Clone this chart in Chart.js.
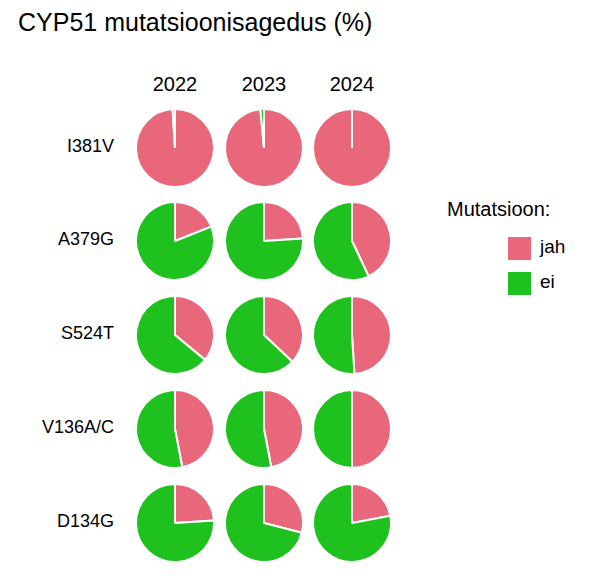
<!DOCTYPE html>
<html>
<head>
<meta charset="utf-8">
<script src="https://cdn.jsdelivr.net/npm/chart.js@4"></script>
<style>
  body { margin: 0; background: #fff; font-family: Arial, "Liberation Sans", sans-serif; }
  #wrap { position: relative; width: 594px; height: 577px; }
  .lbl { position: absolute; color: #000; white-space: nowrap; }
  canvas.pie { position: absolute; }
  .box { position: absolute; width: 23px; height: 23px; }
</style>
</head>
<body>
<div id="wrap">
  <div class="lbl" style="left:18px;top:8px;font-size:25px">CYP51 mutatsioonisagedus (%)</div>
  <div class="lbl" style="left:447px;top:198px;font-size:20px">Mutatsioon:</div>
  <div class="box" style="left:508px;top:237px;background:#E8677A"></div>
  <div class="box" style="left:508px;top:272px;background:#1EC11E"></div>
  <div class="lbl" style="left:540px;top:236px;font-size:19px">jah</div>
  <div class="lbl" style="left:540px;top:271px;font-size:19px">ei</div>
</div>
<script>
const years = ['2022', '2023', '2024'];
const mutations = ['I381V', 'A379G', 'S524T', 'V136A/C', 'D134G'];
const labels = ['jah', 'ei'];
// share of "jah" (%) per mutation, per year
const jahShare = [
  [99, 98.5, 100],
  [19, 24, 43],
  [36, 37, 49],
  [47, 47, 50],
  [24, 29, 22]
];
const colors = ['#E8677A', '#1EC11E'];

const wrap = document.getElementById('wrap');
const colX = [175, 264, 352];
const rowY = [148, 241, 335, 429, 523];
const size = 82;

years.forEach((year, c) => {
    const d = document.createElement('div');
    d.className = 'lbl';
    d.style.cssText = `left:${colX[c] - 30}px;top:73px;width:60px;text-align:center;font-size:20px`;
    d.textContent = year;
    wrap.appendChild(d);
});

mutations.forEach((name, r) => {
    const d = document.createElement('div');
    d.className = 'lbl';
    d.style.cssText = `left:10px;top:${rowY[r] - 12}px;width:104px;text-align:right;font-size:18px`;
    d.textContent = name;
    wrap.appendChild(d);

    years.forEach((year, c) => {
        const cv = document.createElement('canvas');
        cv.className = 'pie';
        cv.width = size;
        cv.height = size;
        cv.style.left = (colX[c] - size / 2) + 'px';
        cv.style.top = (rowY[r] - size / 2) + 'px';
        cv.style.width = size + 'px';
        cv.style.height = size + 'px';
        wrap.appendChild(cv);
        const jah = jahShare[r][c];
        new Chart(cv.getContext('2d'), {
            type: 'pie',
            data: {
                labels: labels,
                datasets: [{
                    data: [jah, 100 - jah],
                    backgroundColor: colors,
                    borderColor: '#fff',
                    borderWidth: 2
                }]
            },
            options: {
                responsive: false,
                animation: false,
                layout: { padding: 1 },
                plugins: { legend: { display: false }, tooltip: { enabled: false } }
            }
        });
    });
});
</script>
</body>
</html>
